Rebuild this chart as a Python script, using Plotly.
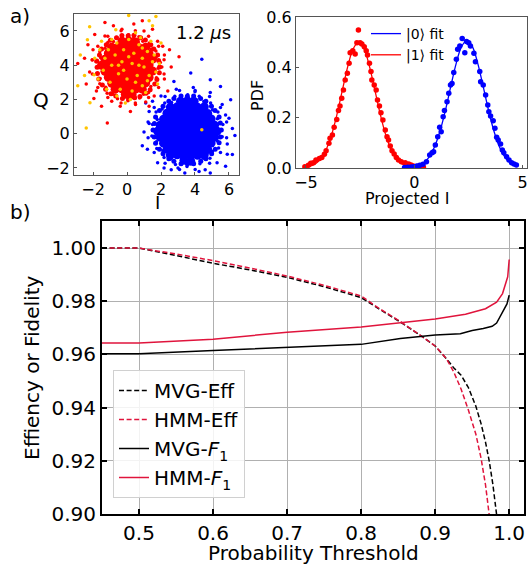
import plotly.graph_objects as go

W, H = 528, 565
FONT = "DejaVu Sans"

# ---------------- panel a) left : IQ scatter (estimated representative points) -------------
red_core = [
    (-0.3, 5.4), (0.1, 5.42), (0.5, 5.36),
    (-0.9, 5.05), (-0.5, 5.07), (-0.1, 5.03), (0.3, 5.06), (0.7, 5.02), (1.1, 5.05),
    (-1.1, 4.7), (-0.7, 4.72), (-0.3, 4.68), (0.1, 4.71), (0.5, 4.69), (0.9, 4.72), (1.3, 4.67),
    (-1.3, 4.35), (-0.9, 4.37), (-0.5, 4.33), (-0.1, 4.36), (0.3, 4.34), (0.7, 4.37), (1.1, 4.33), (1.5, 4.36),
    (-1.5, 4.0), (-1.1, 4.02), (-0.7, 3.98), (-0.3, 4.01), (0.1, 3.99), (0.5, 4.02), (0.9, 3.98), (1.3, 4.01),
    (-1.3, 3.65), (-0.9, 3.67), (-0.5, 3.63), (-0.1, 3.66), (0.3, 3.64), (0.7, 3.67), (1.1, 3.63), (1.5, 3.66),
    (-1.1, 3.3), (-0.7, 3.32), (-0.3, 3.28), (0.1, 3.31), (0.5, 3.29), (0.9, 3.32), (1.3, 3.28),
    (-0.9, 2.95), (-0.5, 2.97), (-0.1, 2.93), (0.3, 2.96), (0.7, 2.94), (1.1, 2.97),
    (-0.7, 2.6), (-0.3, 2.62), (0.1, 2.58), (0.5, 2.61), (0.9, 2.6),
    (-0.1, 2.3), (0.3, 2.28),
]
red_band = [
    (1.92, 3.9), (1.86, 4.27), (1.80, 4.6), (1.58, 4.95), (1.40, 5.2), (1.08, 5.47), (0.80, 5.6),
    (0.41, 5.75), (0.07, 5.72), (-0.3, 5.74), (-0.62, 5.6), (-0.98, 5.46), (-1.22, 5.2),
    (-1.5, 4.95), (-1.62, 4.6), (-1.78, 4.25), (-1.76, 3.88), (-1.74, 3.52), (-1.66, 3.2),
    (-1.45, 2.85), (-1.26, 2.6), (-0.94, 2.34), (-0.66, 2.2), (-0.27, 2.06), (0.09, 2.03),
    (0.45, 2.1), (0.76, 2.17), (1.12, 2.37), (1.36, 2.57), (1.63, 2.9), (1.76, 3.17), (1.9, 3.56),
]
red_sparse = [
    (2.18, 4.32), (1.86, 5.10), (1.27, 5.69), (0.49, 6.01), (-0.35, 6.01), (-1.13, 5.69),
    (-1.72, 5.10), (-2.04, 4.32), (-2.04, 3.48), (-1.72, 2.70), (-1.13, 2.11), (-0.35, 1.79),
    (0.49, 1.79), (1.27, 2.11), (1.86, 2.70), (2.18, 3.48),
    (1.83, 3.82), (1.70, 4.47), (1.43, 4.95), (0.93, 5.40), (0.39, 5.59), (-0.25, 5.55),
    (-0.80, 5.39), (-1.29, 4.99), (-1.55, 4.43), (-1.70, 3.87), (-1.58, 3.22), (-1.25, 2.71),
    (-0.83, 2.31), (-0.21, 2.11), (0.36, 2.15), (0.97, 2.30), (1.40, 2.75), (1.73, 3.27),
    (1.96, 4.16), (1.70, 4.83), (1.31, 5.29), (0.70, 5.66), (0.09, 5.78), (-0.60, 5.62),
    (-1.13, 5.33), (-1.60, 4.78), (-1.82, 4.20), (-1.78, 3.50), (-1.60, 2.92), (-1.17, 2.37),
    (-0.56, 2.04), (0.05, 1.93), (0.74, 2.08), (1.27, 2.41), (1.75, 2.88), (1.92, 3.55),
    (2.2, 4.6), (1.8, 5.4), (1.0, 6.0), (-0.3, 6.1), (-1.3, 5.7), (-2.0, 4.9),
    (-2.2, 3.6), (-1.8, 2.5), (-0.9, 1.9), (0.5, 1.7), (1.6, 2.2), (2.2, 3.2),
    (2.5, 4.9), (1.5, 6.1), (0.4, 6.4), (-0.8, 6.3), (-1.9, 5.8), (-2.5, 4.4),
    (-2.9, 4.1), (-2.4, 2.9), (-1.5, 1.6), (-1.16, 0.62), (0.2, 1.3), (1.3, 1.6),
    (2.4, 2.5), (2.6, 3.9), (3.06, 4.5), (-1.3, 6.5), (0.9, 6.6), (-2.3, 5.2),
    (-2.05, 4.3), (2.05, 3.9), (-0.4, 1.6), (1.1, 1.85), (-1.95, 2.05), (2.1, 5.1),
]
yellow_pts = [
    (-1.1, 4.9), (-0.6, 5.3), (0.1, 5.5), (0.7, 5.2), (1.2, 4.8), (1.5, 4.2), (1.3, 3.4),
    (0.9, 2.8), (0.3, 2.5), (-0.4, 2.6), (-1.0, 3.0), (-1.4, 3.7), (-1.3, 4.4), (-0.7, 4.6),
    (-0.2, 4.9), (0.4, 4.7), (0.9, 4.4), (1.0, 3.9), (0.6, 3.4), (0.0, 3.2), (-0.5, 3.5),
    (-0.9, 4.0), (-0.3, 4.2), (0.3, 4.1), (0.5, 3.0), (-0.2, 3.7), (0.8, 5.6), (-0.9, 5.5),
    (1.7, 3.6), (1.6, 4.6), (-1.6, 4.9), (-1.7, 3.2), (0.2, 2.0), (1.1, 2.4), (-0.6, 2.2),
    (0.7, 4.0), (1.2, 3.1), (-0.5, 4.0), (0.1, 4.5), (0.9, 5.0), (1.9, 4.1), (-1.9, 4.4),
    (1.4, 5.4), (-1.2, 2.6), (0.5, 5.9), (-0.1, 1.8), (1.8, 2.9), (-1.5, 5.4),
    (0.1, 6.9), (1.7, 6.85), (1.3, 6.6), (-0.66, 6.07), (-2.2, 6.25), (-2.33, 5.49),
    (-2.75, 4.6), (-1.94, 3.44), (-2.9, 2.8), (-2.18, 1.81), (-2.4, 0.33), (4.4, 0.23),
    (1.5, 6.3), (2.0, 5.3), (-2.5, 3.4),
]
blue_core = [
    (3.15, 1.9), (3.55, 1.92), (3.95, 1.88),
    (2.55, 1.55), (2.95, 1.57), (3.35, 1.53), (3.75, 1.56), (4.15, 1.54), (4.55, 1.57),
    (2.35, 1.2), (2.75, 1.22), (3.15, 1.18), (3.55, 1.21), (3.95, 1.19), (4.35, 1.22), (4.75, 1.18),
    (2.15, 0.85), (2.55, 0.87), (2.95, 0.83), (3.35, 0.86), (3.75, 0.84), (4.15, 0.87), (4.55, 0.83), (4.95, 0.86),
    (1.95, 0.5), (2.35, 0.52), (2.75, 0.48), (3.15, 0.51), (3.55, 0.49), (3.95, 0.52), (4.35, 0.48), (4.75, 0.51), (5.15, 0.5),
    (1.8, 0.15), (2.15, 0.17), (2.55, 0.13), (2.95, 0.16), (3.35, 0.14), (3.75, 0.17), (4.15, 0.13), (4.55, 0.16), (4.95, 0.14), (5.3, 0.15),
    (1.95, -0.2), (2.35, -0.18), (2.75, -0.22), (3.15, -0.19), (3.55, -0.21), (3.95, -0.18), (4.35, -0.22), (4.75, -0.19), (5.15, -0.2),
    (2.15, -0.55), (2.55, -0.53), (2.95, -0.57), (3.35, -0.54), (3.75, -0.56), (4.15, -0.53), (4.55, -0.57), (4.95, -0.54),
    (2.35, -0.9), (2.75, -0.88), (3.15, -0.92), (3.55, -0.89), (3.95, -0.91), (4.35, -0.88), (4.75, -0.92),
    (2.55, -1.25), (2.95, -1.23), (3.35, -1.27), (3.75, -1.24), (4.15, -1.26), (4.55, -1.23),
    (3.35, -1.55), (3.75, -1.6),
]
blue_band = [
    (5.55, 0.22), (5.49, 0.63), (5.42, 0.97), (5.18, 1.35), (4.97, 1.61), (4.64, 1.9), (4.33, 2.05),
    (3.92, 2.2), (3.55, 2.19), (3.18, 2.2), (2.76, 2.05), (2.46, 1.9), (2.12, 1.61), (1.91, 1.35),
    (1.68, 0.97), (1.61, 0.6), (1.53, 0.22), (1.6, -0.19), (1.68, -0.55), (1.91, -0.9), (2.12, -1.17),
    (2.46, -1.46), (2.76, -1.61), (3.18, -1.76), (3.55, -1.76), (3.92, -1.76), (4.34, -1.61),
    (4.64, -1.46), (4.98, -1.17), (5.19, -0.9), (5.42, -0.53), (5.49, -0.19),
]
blue_sparse = [
    (5.86, 0.68), (5.50, 1.53), (4.86, 2.17), (4.01, 2.53), (3.09, 2.53), (2.24, 2.17),
    (1.60, 1.53), (1.24, 0.68), (1.24, -0.24), (1.60, -1.09), (2.24, -1.73), (3.09, -2.09),
    (4.01, -2.09), (4.86, -1.73), (5.50, -1.09), (5.86, -0.24),
    (5.47, 0.22), (5.32, 0.87), (5.03, 1.40), (4.52, 1.88), (3.86, 2.05), (3.20, 2.09),
    (2.62, 1.83), (2.07, 1.44), (1.78, 0.83), (1.63, 0.22), (1.74, -0.47), (2.11, -1.00),
    (2.58, -1.47), (3.24, -1.65), (3.90, -1.69), (4.48, -1.43), (5.03, -1.04), (5.32, -0.43),
    (5.64, 0.54), (5.35, 1.27), (4.92, 1.79), (4.25, 2.19), (3.57, 2.28), (2.81, 2.19),
    (2.22, 1.79), (1.71, 1.27), (1.50, 0.54), (1.46, -0.14), (1.75, -0.87), (2.18, -1.39),
    (2.85, -1.79), (3.53, -1.92), (4.29, -1.75), (4.88, -1.43), (5.39, -0.83), (5.60, -0.18),
    (6.0, 0.9), (5.9, -0.6), (5.6, 1.7), (4.9, 2.4), (3.9, 2.7), (2.9, 2.6),
    (2.0, 2.2), (1.3, 1.3), (1.0, 0.1), (1.2, -0.9), (1.8, -1.7), (2.6, -2.1),
    (3.4, -2.3), (4.6, -2.1), (5.3, -1.7), (5.9, -1.2), (6.2, 0.3), (1.5, 1.9),
    (4.4, 4.35), (3.75, 3.55), (4.9, 3.15), (5.5, 2.76), (6.1, 1.98), (2.76, 3.05),
    (2.18, -2.0), (4.24, -2.2), (6.2, -1.22), (6.35, -0.1), (1.1, 1.8), (0.9, -0.7),
    (5.8, -1.9), (4.9, -2.3), (5.8, 1.1), (1.3, 0.6), (3.0, -2.0), (4.0, 2.45),
]

# ---------------- panel a) right : projected-I histograms and Gaussian fits -------------
red_pdf_x = [-5.05, -4.89, -4.78, -4.66, -4.54, -4.38, -4.27, -4.15, -4.07, -3.94, -3.89, -3.78,
             -3.70, -3.58, -3.50, -3.43, -3.35, -3.27, -3.19, -3.09, -3.01, -2.96, -2.84, -2.73,
             -2.65, -2.58, -2.50, -2.42, -2.31, -2.22, -2.16, -2.07, -2.00, -1.96, -1.85, -1.76,
             -1.70, -1.61, -1.54, -1.45, -1.34, -1.26, -1.19, -1.11, -1.03, -0.93, -0.83, -0.73,
             -0.60, -0.42, -0.26, -0.15, -0.05, 0.10, 0.25, 0.42]
red_pdf_y = [0.005, 0.011, 0.019, 0.021, 0.032, 0.038, 0.042, 0.055, 0.069, 0.098, 0.118, 0.131,
             0.162, 0.193, 0.228, 0.246, 0.277, 0.310, 0.350, 0.376, 0.416, 0.458, 0.466, 0.453,
             0.498, 0.548, 0.498, 0.493, 0.482, 0.466, 0.449, 0.416, 0.383, 0.350, 0.330, 0.310,
             0.270, 0.246, 0.220, 0.191, 0.151, 0.124, 0.111, 0.087, 0.069, 0.056, 0.042, 0.032,
             0.025, 0.021, 0.016, 0.012, 0.008, 0.006, 0.004, 0.003]
blue_pdf_x = [-0.45, -0.30, -0.15, -0.03, 0.12, 0.25, 0.40, 0.56, 0.71, 0.82, 0.89, 0.97, 1.08,
              1.17, 1.24, 1.33, 1.39, 1.51, 1.59, 1.67, 1.74, 1.82, 1.94, 2.00, 2.10, 2.21, 2.33,
              2.41, 2.51, 2.59, 2.75, 2.82, 3.02, 3.06, 3.18, 3.29, 3.39, 3.44, 3.52, 3.64, 3.72,
              3.80, 3.87, 3.98, 4.06, 4.13, 4.26, 4.37, 4.49, 4.60, 4.71]
blue_pdf_y = [0.002, 0.003, 0.004, 0.005, 0.008, 0.011, 0.015, 0.025, 0.052, 0.061, 0.065, 0.091,
              0.124, 0.162, 0.144, 0.204, 0.228, 0.263, 0.297, 0.330, 0.336, 0.379, 0.432, 0.472,
              0.485, 0.515, 0.458, 0.503, 0.498, 0.485, 0.456, 0.422, 0.383, 0.343, 0.330, 0.290,
              0.250, 0.224, 0.207, 0.188, 0.158, 0.122, 0.111, 0.095, 0.072, 0.061, 0.045, 0.032,
              0.021, 0.016, 0.012]
red_fit_x = [-5.07, -4.82, -4.57, -4.32, -4.07, -3.82, -3.57, -3.32, -3.07, -2.82, -2.57, -2.32,
             -2.07, -1.82, -1.57, -1.32, -1.07, -0.82, -0.57, -0.32, -0.07, 0.18]
red_fit_y = [0.0024, 0.0066, 0.0164, 0.0365, 0.0731, 0.1315, 0.2127, 0.3092, 0.4038, 0.4740, 0.5000,
             0.4740, 0.4038, 0.3092, 0.2127, 0.1315, 0.0731, 0.0365, 0.0164, 0.0066, 0.0024, 0.0008]
blue_fit_x = [-0.32, -0.07, 0.18, 0.43, 0.68, 0.93, 1.18, 1.43, 1.68, 1.93, 2.18, 2.43, 2.68, 2.93,
              3.18, 3.43, 3.68, 3.93, 4.18, 4.43, 4.68]
blue_fit_y = [0.0012, 0.0034, 0.0088, 0.0205, 0.0436, 0.0836, 0.1450, 0.2275, 0.3231, 0.4150, 0.4822,
              0.5070, 0.4822, 0.4150, 0.3231, 0.2275, 0.1450, 0.0836, 0.0436, 0.0205, 0.0088]

# ---------------- panel b) : efficiency / fidelity vs probability threshold -------------
mvg_eff_x = [0.45, 0.50, 0.55, 0.60, 0.65, 0.70, 0.75, 0.80, 0.825, 0.853, 0.88, 0.90, 0.915, 0.925,
             0.935, 0.945, 0.955, 0.962, 0.968, 0.973, 0.978, 0.983, 0.986]
mvg_eff_y = [1.0, 1.0, 0.9972, 0.9943, 0.9918, 0.9890, 0.9855, 0.9814, 0.9770, 0.9722, 0.9672, 0.9632,
             0.9585, 0.9550, 0.9522, 0.9475, 0.9405, 0.9340, 0.9270, 0.9200, 0.9110, 0.9000, 0.8930]
hmm_eff_x = [0.45, 0.50, 0.55, 0.60, 0.65, 0.70, 0.75, 0.80, 0.825, 0.853, 0.88, 0.90, 0.915, 0.925,
             0.935, 0.945, 0.955, 0.962, 0.968, 0.973, 0.976]
hmm_eff_y = [1.0, 1.0, 0.9978, 0.9953, 0.9925, 0.9895, 0.9860, 0.9820, 0.9772, 0.9724, 0.9672, 0.9632,
             0.9585, 0.9535, 0.9470, 0.9390, 0.9300, 0.9210, 0.9110, 0.9000, 0.8930]
mvg_f1_x = [0.45, 0.50, 0.60, 0.70, 0.80, 0.853, 0.88, 0.90, 0.934, 0.95, 0.965, 0.977, 0.983, 0.988,
            0.993, 0.997, 1.0]
mvg_f1_y = [0.9603, 0.9603, 0.9615, 0.9627, 0.9638, 0.9660, 0.9668, 0.9673, 0.9678, 0.9690, 0.9698,
            0.9706, 0.9718, 0.9742, 0.9766, 0.9790, 0.9823]
hmm_f1_x = [0.45, 0.50, 0.60, 0.70, 0.80, 0.853, 0.90, 0.941, 0.968, 0.983, 0.991, 0.998, 1.0]
hmm_f1_y = [0.9643, 0.9643, 0.9657, 0.9684, 0.9703, 0.9720, 0.9733, 0.9751, 0.9772, 0.9797, 0.9829,
            0.9892, 0.9957]

x_ticks_b = [0.5, 0.6, 0.7, 0.8, 0.9, 1.0]
y_ticks_b = [0.90, 0.92, 0.94, 0.96, 0.98, 1.00]

RED = "#FF0000"
BLUE = "#0000FF"
YELLOW = "#FFC400"
CRIMSON = "#E0143C"


def xs(pts):
    return [p[0] for p in pts]


def ys(pts):
    return [p[1] for p in pts]


fig = go.Figure()


def cloud(pts, color, size):
    fig.add_trace(go.Scatter(x=xs(pts), y=ys(pts), mode="markers",
                             marker=dict(color=color, size=size, line=dict(width=0)),
                             xaxis="x", yaxis="y", showlegend=False, hoverinfo="skip"))


cloud(blue_core, BLUE, 9)
cloud(blue_band, BLUE, 5)
cloud(blue_sparse, BLUE, 3.5)
cloud(red_core, RED, 9)
cloud(red_band, RED, 5)
cloud(red_sparse, RED, 3.5)
cloud(yellow_pts, YELLOW, 3.5)

# PDF panel
fig.add_trace(go.Scatter(x=blue_fit_x, y=blue_fit_y, mode="lines", line=dict(color=BLUE, width=1.3, shape="spline"),
                         name="|0⟩ fit", legend="legend2", xaxis="x2", yaxis="y2"))
fig.add_trace(go.Scatter(x=red_fit_x, y=red_fit_y, mode="lines", line=dict(color=RED, width=1.3, shape="spline"),
                         name="|1⟩ fit", legend="legend2", xaxis="x2", yaxis="y2"))
fig.add_trace(go.Scatter(x=red_pdf_x, y=red_pdf_y, mode="markers", marker=dict(color=RED, size=5.5),
                         showlegend=False, xaxis="x2", yaxis="y2"))
fig.add_trace(go.Scatter(x=blue_pdf_x, y=blue_pdf_y, mode="markers", marker=dict(color=BLUE, size=5.5),
                         showlegend=False, xaxis="x2", yaxis="y2"))

# bottom panel
DASH = "5px,2.6px"
fig.add_trace(go.Scatter(x=mvg_eff_x, y=mvg_eff_y, mode="lines", name="MVG-Eff",
                         line=dict(color="black", width=1.5, dash=DASH),
                         xaxis="x3", yaxis="y3", legendgroup="a"))
fig.add_trace(go.Scatter(x=hmm_eff_x, y=hmm_eff_y, mode="lines", name="HMM-Eff",
                         line=dict(color=CRIMSON, width=1.5, dash=DASH),
                         xaxis="x3", yaxis="y3", legendgroup="b"))
fig.add_trace(go.Scatter(x=mvg_f1_x, y=mvg_f1_y, mode="lines", name="MVG-<i>F</i><sub>1</sub>",
                         line=dict(color="black", width=1.5),
                         xaxis="x3", yaxis="y3", legendgroup="c"))
fig.add_trace(go.Scatter(x=hmm_f1_x, y=hmm_f1_y, mode="lines", name="HMM-<i>F</i><sub>1</sub>",
                         line=dict(color=CRIMSON, width=1.5),
                         xaxis="x3", yaxis="y3", legendgroup="d"))


def px(x):
    return x / W


def py(y):
    return 1 - y / H


top_axis = dict(showline=True, mirror=True, linecolor="#555555", linewidth=1,
                ticks="inside", ticklen=3, tickcolor="#555555", tickwidth=1,
                showgrid=False, zeroline=False, automargin=False,
                tickfont=dict(family=FONT, size=16, color="black"))
bot_axis = dict(showline=True, mirror="ticks", linecolor="black", linewidth=2,
                ticks="inside", ticklen=5, tickcolor="black", tickwidth=1.5,
                showgrid=True, gridcolor="#b0b0b0", gridwidth=1, zeroline=False, automargin=False,
                tickfont=dict(family=FONT, size=20, color="black"))

fig.update_layout(
    width=W, height=H,
    margin=dict(l=0, r=0, t=0, b=0, pad=0, autoexpand=False),
    paper_bgcolor="white", plot_bgcolor="white",
    font=dict(family=FONT, color="black"),
    xaxis=dict(domain=[px(74), px(239)], range=[-3.12, 6.59], tickvals=[-2, 0, 2, 4, 6],
               anchor="y", **top_axis),
    yaxis=dict(domain=[py(175), py(14)], range=[-2.41, 6.99], tickvals=[-2, 0, 2, 4, 6],
               anchor="x", **top_axis),
    xaxis2=dict(domain=[px(296), px(527)], range=[-5.46, 5.2], tickvals=[-5, 0, 5],
                anchor="y2", **top_axis),
    yaxis2=dict(domain=[py(168), py(17)], range=[0, 0.6], tickvals=[0, 0.2, 0.4, 0.6],
                tickformat=".1f", anchor="x2", **top_axis),
    xaxis3=dict(domain=[px(102), px(524)], range=[0.45, 1.02], tickvals=x_ticks_b,
                tickformat=".1f", anchor="y3", **bot_axis),
    yaxis3=dict(domain=[py(514), py(221)], range=[0.90, 1.0102], tickvals=y_ticks_b,
                tickformat=".2f", anchor="x3", **bot_axis),
    legend=dict(x=px(113), y=py(370), xanchor="left", yanchor="top",
                bgcolor="rgba(255,255,255,0.85)", bordercolor="#d0d0d0", borderwidth=1,
                font=dict(family=FONT, size=20, color="black"), tracegroupgap=4,
                traceorder="normal"),
    legend2=dict(x=px(366), y=py(18), xanchor="left", yanchor="top",
                 bgcolor="rgba(0,0,0,0)", borderwidth=0,
                 font=dict(family=FONT, size=14, color="black"), itemwidth=30),
    showlegend=True,
)

ann = [
    dict(text="a)", x=px(20), y=py(16), size=20),
    dict(text="b)", x=px(20), y=py(212), size=20),
    dict(text="1.2 <i>μ</i>s", x=px(203), y=py(33), size=18),
    dict(text="Q", x=px(41), y=py(100), size=20),
    dict(text="I", x=px(157), y=py(202), size=18),
    dict(text="Projected I", x=px(407), y=py(199), size=16),
    dict(text="PDF", x=px(257), y=py(96), size=16, angle=-90),
    dict(text="Effiency or Fidelity", x=px(32), y=py(368), size=20, angle=-90),
    dict(text="Probability Threshold", x=px(313), y=py(553), size=20),
]
for a in ann:
    fig.add_annotation(text=a["text"], x=a["x"], y=a["y"], xref="paper", yref="paper",
                       xanchor="center", yanchor="middle", showarrow=False,
                       textangle=a.get("angle", 0),
                       font=dict(family=FONT, size=a["size"], color="black"))

fig.write_html("out.html", config={"displayModeBar": False},
               post_script="document.body.style.margin='0';document.documentElement.style.overflow='hidden';")
